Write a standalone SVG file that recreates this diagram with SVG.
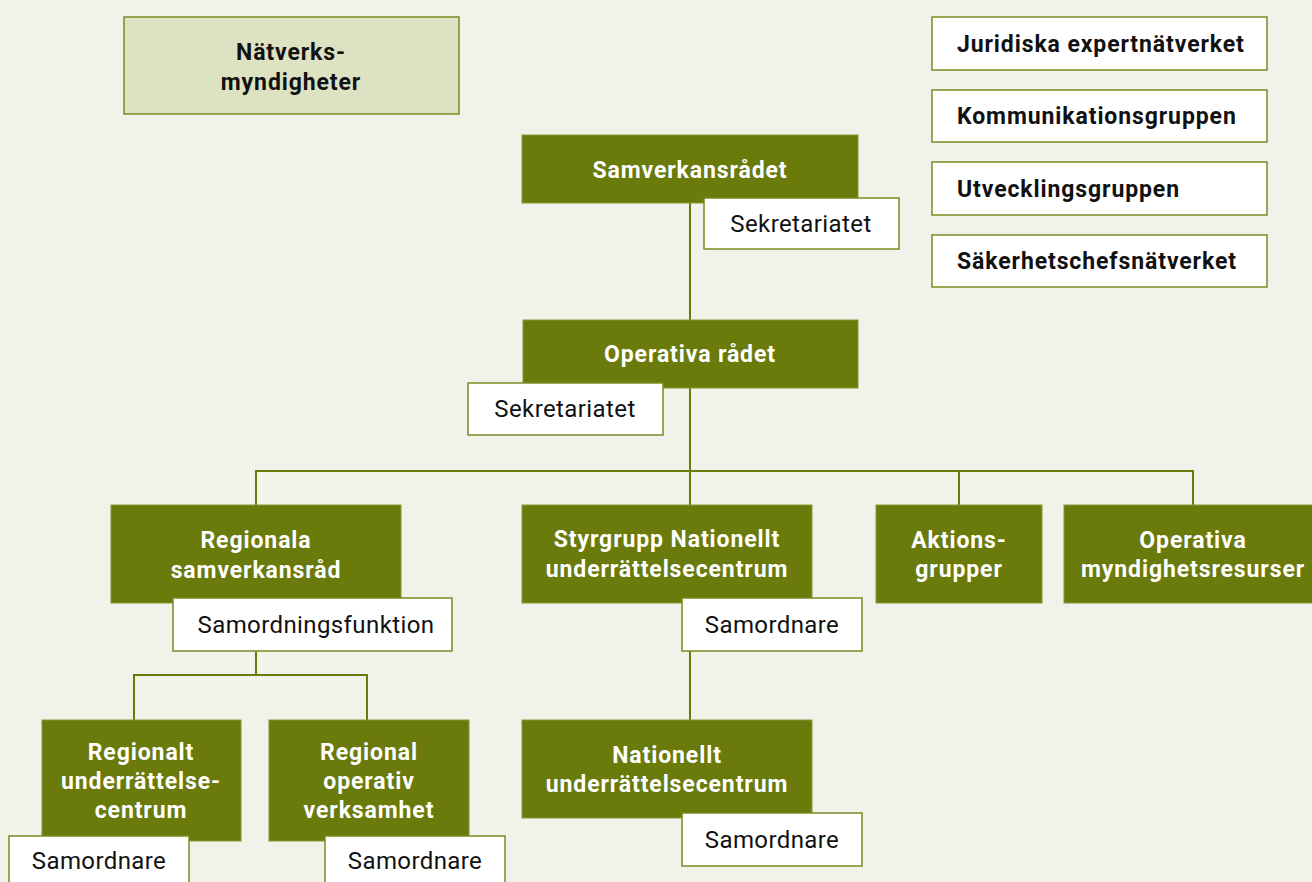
<svg xmlns="http://www.w3.org/2000/svg" width="1312" height="882" viewBox="0 0 1312 882">
<style>
.bg{fill:#f2f2eb}
.g{fill:#6a7a0b;stroke:#879834;stroke-width:1}
.w{fill:#ffffff;stroke:#7a8c22;stroke-width:1.5}
.lg{fill:#dde2c3;stroke:#7a8c22;stroke-width:1.5}
.c{fill:none;stroke:#6a7a0b;stroke-width:2}
.tw{font-family:Roboto,"Liberation Sans",sans-serif;font-size:23px;font-weight:700;letter-spacing:0.9px;fill:#ffffff;text-anchor:middle}
.tb{font-family:Roboto,"Liberation Sans",sans-serif;font-size:23px;font-weight:700;letter-spacing:0.9px;fill:#111111}
.tn{font-family:Roboto,"Liberation Sans",sans-serif;font-size:24px;font-weight:400;letter-spacing:0.4px;fill:#111111;text-anchor:middle}
</style>
<rect class="bg" x="0" y="0" width="1312" height="882"/>
<g id="connectors">
<path class="c" d="M690 203V505"/>
<path class="c" d="M256 505V471H1193V505"/>
<path class="c" d="M959 471V505"/>
<path class="c" d="M256 651V675"/>
<path class="c" d="M134 720V675H367V720"/>
<path class="c" d="M690 651V720"/>
</g>
<g id="natverksmyndigheter">
<rect class="lg" x="124" y="17" width="335" height="97"/>
<text class="tb" x="291" y="60" text-anchor="middle">Nätverks-</text>
<text class="tb" x="291" y="90" text-anchor="middle">myndigheter</text>
</g>
<g id="juridiska">
<rect class="w" x="932" y="17" width="335" height="53"/>
<text class="tb" x="957" y="52">Juridiska expertnätverket</text>
</g>
<g id="kommunikation">
<rect class="w" x="932" y="90" width="335" height="52"/>
<text class="tb" x="957" y="124">Kommunikationsgruppen</text>
</g>
<g id="utveckling">
<rect class="w" x="932" y="162" width="335" height="53"/>
<text class="tb" x="957" y="197">Utvecklingsgruppen</text>
</g>
<g id="sakerhet">
<rect class="w" x="932" y="235" width="335" height="52"/>
<text class="tb" x="957" y="269">Säkerhetschefsnätverket</text>
</g>
<g id="samverkansradet">
<rect class="g" x="522" y="135" width="336" height="68"/>
<text class="tw" x="690" y="178">Samverkansrådet</text>
<rect class="w" x="704" y="198" width="195" height="51"/>
<text class="tn" x="801" y="232">Sekretariatet</text>
</g>
<g id="operativa-radet">
<rect class="g" x="523" y="320" width="335" height="68"/>
<text class="tw" x="690" y="362">Operativa rådet</text>
<rect class="w" x="468" y="383" width="195" height="52"/>
<text class="tn" x="565" y="417">Sekretariatet</text>
</g>
<g id="regionala-samverkansrad">
<rect class="g" x="111" y="505" width="290" height="98"/>
<text class="tw" x="256" y="548">Regionala</text>
<text class="tw" x="256" y="578">samverkansråd</text>
<rect class="w" x="173" y="598" width="279" height="53"/>
<text class="tn" x="316" y="633">Samordningsfunktion</text>
</g>
<g id="styrgrupp">
<rect class="g" x="522" y="505" width="290" height="98"/>
<text class="tw" x="667" y="547">Styrgrupp Nationellt</text>
<text class="tw" x="667" y="577">underrättelsecentrum</text>
<rect class="w" x="682" y="598" width="180" height="53"/>
<text class="tn" x="772" y="633">Samordnare</text>
</g>
<g id="aktionsgrupper">
<rect class="g" x="876" y="505" width="166" height="98"/>
<text class="tw" x="959" y="548">Aktions-</text>
<text class="tw" x="959" y="577">grupper</text>
</g>
<g id="operativa-myndighetsresurser">
<rect class="g" x="1064" y="505" width="252" height="98"/>
<text class="tw" x="1193" y="548">Operativa</text>
<text class="tw" x="1193" y="577">myndighetsresurser</text>
</g>
<g id="regionalt-underrattelsecentrum">
<rect class="g" x="42" y="720" width="199" height="121"/>
<text class="tw" x="141" y="760">Regionalt</text>
<text class="tw" x="141" y="789">underrättelse-</text>
<text class="tw" x="141" y="818">centrum</text>
<rect class="w" x="9" y="836" width="180" height="52"/>
<text class="tn" x="99" y="869">Samordnare</text>
</g>
<g id="regional-operativ-verksamhet">
<rect class="g" x="269" y="720" width="200" height="121"/>
<text class="tw" x="369" y="760">Regional</text>
<text class="tw" x="369" y="789">operativ</text>
<text class="tw" x="369" y="818">verksamhet</text>
<rect class="w" x="325" y="836" width="180" height="52"/>
<text class="tn" x="415" y="869">Samordnare</text>
</g>
<g id="nationellt-underrattelsecentrum">
<rect class="g" x="522" y="720" width="290" height="98"/>
<text class="tw" x="667" y="763">Nationellt</text>
<text class="tw" x="667" y="792">underrättelsecentrum</text>
<rect class="w" x="682" y="813" width="180" height="53"/>
<text class="tn" x="772" y="848">Samordnare</text>
</g>
</svg>
